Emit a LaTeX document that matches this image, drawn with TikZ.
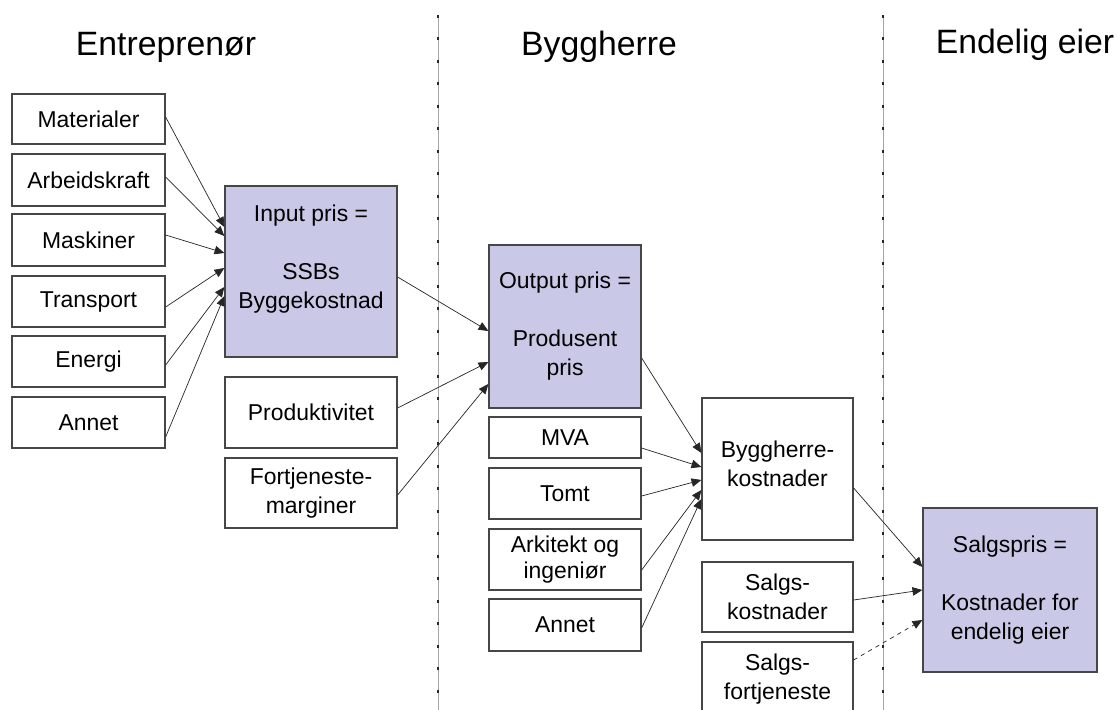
\documentclass[tikz,border=0pt]{standalone}
\usepackage{fontspec}
\setmainfont{Liberation Sans}
\usetikzlibrary{arrows.meta}
\definecolor{lav}{RGB}{201,200,230}
\definecolor{edgegray}{RGB}{70,70,70}
\begin{document}
\begin{tikzpicture}[x=0.025cm,y=-0.025cm,
  box/.style={draw=edgegray, line width=0.9pt, inner sep=0pt, align=center,
    font=\fontsize{16.3}{20.6}\selectfont},
  sz/.style 2 args={minimum width=#1*0.025cm, minimum height=#2*0.025cm},
  pbox/.style={box, fill=lav},
  txt/.style={align=center, inner sep=0pt, font=\fontsize{16.3}{20.6}\selectfont},
  ttl/.style={font=\fontsize{24}{28}\selectfont, anchor=base, inner sep=0pt},
  arr/.style={draw=black!85, line width=0.5pt, -{Triangle[length=7pt,width=6pt]}},
  sepline/.style={draw=black!35, line width=0.5pt},
  sepdash/.style={draw=black!85, line width=1pt, dash pattern=on 2pt off 14pt}
]
\useasboundingbox (0,0) rectangle (1118,710);
\clip (0,0) rectangle (1118,710);
\fill[white] (0,0) rectangle (1118,710);

% titles
\node[ttl] (t1) at (166,55) {Entreprenør};
\node[ttl] (t2) at (599,55) {Byggherre};
\node[ttl] (t3) at (1025,53) {Endelig eier};

% separators
\coordinate (s1a) at (438,15); \coordinate (s1b) at (438,712);
\coordinate (s2a) at (883,15); \coordinate (s2b) at (883,712);
\draw[sepline] (s1a) -- (s1b);
\draw[sepdash] (s1a) -- (s1b);
\draw[sepline] (s2a) -- (s2b);
\draw[sepdash] (s2a) -- (s2b);

% left column
\node[box, sz={153}{50}] (mat)  at (88.5,119)   {Materialer};
\node[box, sz={153}{52}] (arb)  at (88.5,180)   {Arbeidskraft};
\node[box, sz={153}{52}] (mas)  at (88.5,240)   {Maskiner};
\node[box, sz={153}{51}] (tra)  at (88.5,301.5) {Transport};
\node[box, sz={153}{51}] (ene)  at (88.5,361.5) {Energi};
\node[box, sz={153}{51}] (ann1) at (88.5,422.5) {Annet};

% second column
\node[pbox, sz={172}{171}] (inp) at (311,271.5) {};
\node[txt] (inptxt) at (311,259) {Input pris =\\[20.6pt]SSBs\\Byggekostnad};
\node[box, sz={172}{71}] (prod) at (311,412.5) {Produktivitet};
\node[box, sz={172}{70}] (fort) at (311,493) {Fortjeneste-\\marginer};

% third column
\node[pbox, sz={152}{163}] (out) at (565,326.5) {Output pris =\\[20.6pt]Produsent\\pris};
\node[box, sz={152}{41}] (mva)  at (565,437.5) {MVA};
\node[box, sz={152}{51}] (tomt) at (565,493.5) {Tomt};
\node[box, sz={152}{61}] (ark)  at (565,559.5) {Arkitekt og\\[-2pt]ingeniør};
\node[box, sz={152}{52}] (ann2) at (565,625)   {Annet};

% fourth column
\node[box, sz={151}{142}] (bygg) at (777.5,469) {};
\node[txt] (byggtxt) at (777.5,464) {Byggherre-\\kostnader};
\node[box, sz={151}{70}] (sk) at (777.5,597) {Salgs-\\kostnader};
\node[box, sz={151}{74}] (sf) at (777.5,679) {Salgs-\\fortjeneste};

% final
\node[pbox, sz={174}{164}] (sal) at (1010,590) {Salgspris =\\[20.6pt]Kostnader for\\endelig eier};

% arrows to input
\draw[arr] (mat.east |- 0,117) -- (inp.west |- 0,227);
\draw[arr] (arb.east |- 0,177) -- (inp.west |- 0,236);
\draw[arr] (mas.east |- 0,235) -- (inp.west |- 0,253);
\draw[arr] (tra.east |- 0,307) -- (inp.west |- 0,268);
\draw[arr] (ene.east |- 0,365) -- (inp.west |- 0,287);
\draw[arr] (ann1.east |- 0,437) -- (inp.west |- 0,296);

% arrows to output
\draw[arr] (inp.east |- 0,277) -- (out.west |- 0,331);
\draw[arr] (prod.east |- 0,408) -- (out.west |- 0,362);
\draw[arr] (fort.east |- 0,495) -- (out.west |- 0,384);

% arrows to byggherre
\draw[arr] (out.east |- 0,358) -- (bygg.west |- 0,453);
\draw[arr] (mva.east |- 0,448) -- (bygg.west |- 0,467);
\draw[arr] (tomt.east |- 0,496) -- (bygg.west |- 0,480);
\draw[arr] (ark.east |- 0,570) -- (bygg.west |- 0,490);
\draw[arr] (ann2.east |- 0,628) -- (bygg.west |- 0,499);

% arrows to salgspris
\draw[arr] (bygg.east |- 0,488) -- (sal.west |- 0,567);
\draw[arr] (sk.east |- 0,600) -- (sal.west |- 0,590);
\draw[arr, dashed] (sf.east |- 0,660) -- (sal.west |- 0,620);
\end{tikzpicture}
\end{document}
